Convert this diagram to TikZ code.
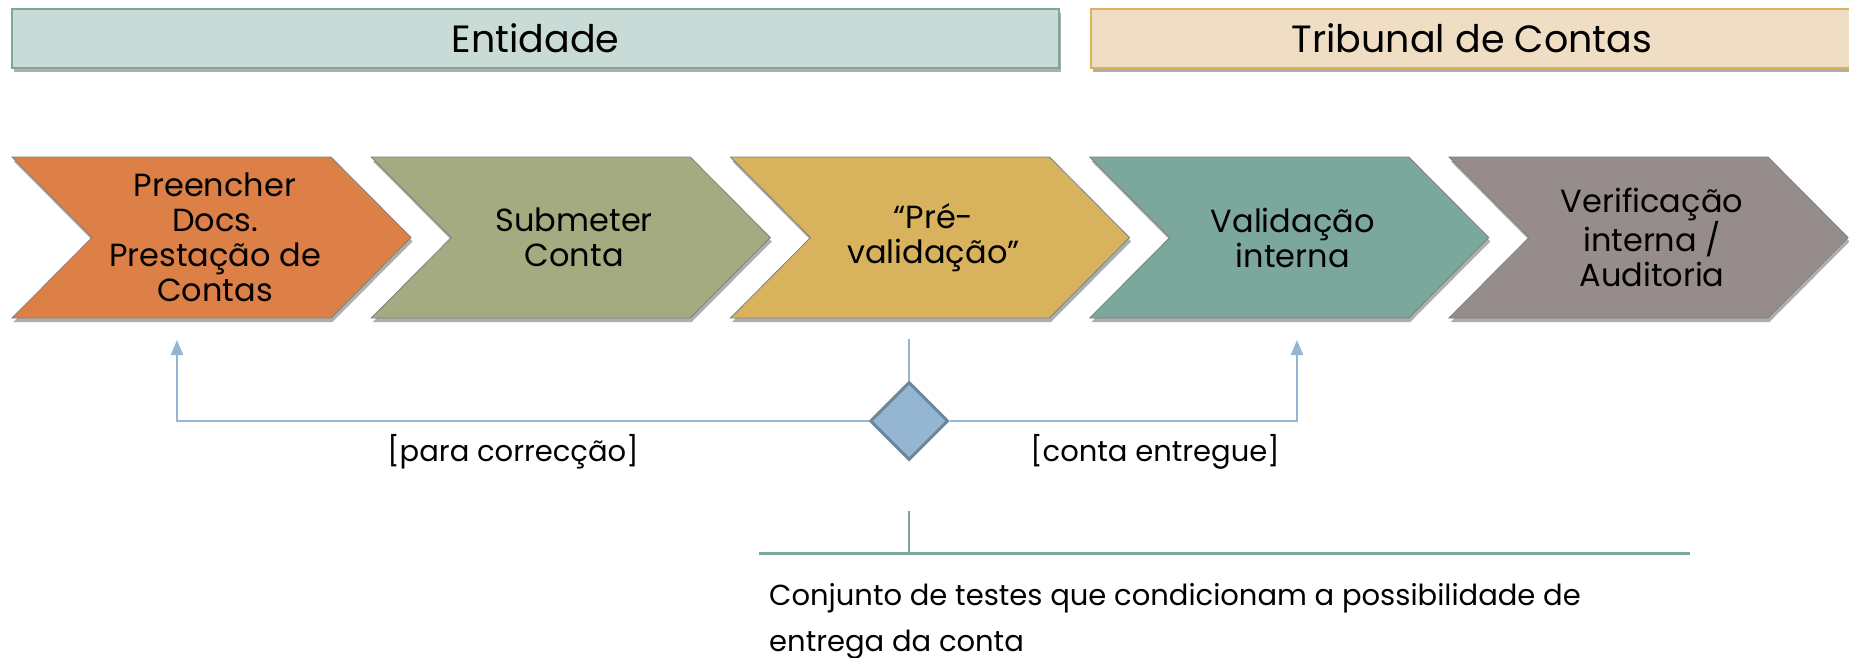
\documentclass[tikz,border=0pt]{standalone}
\usepackage{fontspec}
\setmainfont{Poppins}
\usetikzlibrary{shapes.geometric,arrows.meta,shadows}
\definecolor{accA}{HTML}{94B6D2}
\definecolor{accB}{HTML}{DD8047}
\definecolor{accC}{HTML}{A5AB81}
\definecolor{accD}{HTML}{D8B25C}
\definecolor{accE}{HTML}{7BA79D}
\definecolor{accF}{HTML}{968C8C}
\definecolor{entFill}{HTML}{C9DBD6}
\definecolor{tribFill}{HTML}{EFDEC3}
\definecolor{diaBorder}{HTML}{6D879A}
\tikzset{
  softshadow/.style={drop shadow={shadow xshift=1.5pt, shadow yshift=-4pt, opacity=0.45, fill=black!70}},
  titlebox/.style={draw, line width=2pt, softshadow},
  titletext/.style={font=\fontsize{38}{42}\selectfont, text=black, inner sep=0pt},
  chevshape/.style={draw=black!50, line width=0.8pt, softshadow},
  chevtext/.style={font=\fontsize{32}{35}\selectfont, align=center, text=black, inner sep=0pt},
  decision/.style={diamond, aspect=1, minimum width=78pt, minimum height=78pt, inner sep=0pt, fill=accA, draw=diaBorder, line width=3pt},
  flowline/.style={draw=accA, line width=2.2pt},
  flowarrow/.style={flowline, -{Triangle[width=12pt,length=15pt]}},
  guardtext/.style={font=\fontsize{29}{32}\selectfont, text=black, inner sep=0pt},
  notetext/.style={font=\fontsize{29}{32}\selectfont, text=black, inner sep=0pt},
  noteline/.style={draw=accE, line width=3pt}
}
\begin{document}
\begin{tikzpicture}[x=1pt,y=-1pt]
\useasboundingbox (0,0) rectangle (1849,658);
% title bars
\path[titlebox, draw=accE, fill=entFill] (12,9) rectangle (1059,68);
\node[titletext] (ent) at (535.5,38.5) {Entidade};
\path[titlebox, draw=accD, fill=tribFill] (1091,9) rectangle (1856,68);
\node[titletext] (trib) at (1472,38.5) {Tribunal de Contas};
% chevrons
\foreach \i/\col in {0/accB,1/accC,2/accD,3/accE,4/accF} {
  \pgfmathsetmacro\L{12+359.25*\i}
  \path[chevshape, fill=\col] (\L,157) -- (\L+319,157) -- (\L+399,237.5) -- (\L+319,318) -- (\L,318) -- (\L+80,237.5) -- cycle;
}
\node[chevtext] (s1) at (215,237.5) {Preencher\\Docs.\\Prestação de\\Contas};
\node[chevtext] (s2) at (574.25,237.5) {Submeter\\Conta};
\node[chevtext] (s3) at (933.5,237.5) {“Pré-\\validação”};
\node[chevtext] (s4) at (1292.75,237.5) {Validação\\interna};
\node[chevtext] (s5) at (1652,237.5) {Verificação\\interna /\\Auditoria};
% decision
\node[decision] (dec) at (909,421) {};
\coordinate (fromS3) at (909,339);
\coordinate (toS1) at (177,340);
\coordinate (toS4) at (1297,340);
\draw[draw=accA, line width=1.5pt] (fromS3) -- (dec.north);
\draw[flowarrow] (dec.west) -| (toS1);
\draw[flowarrow] (dec.east) -| (toS4);
\node[guardtext] (gl) at (513,452) {[para correcção]};
\node[guardtext] (gr) at (1155,452) {[conta entregue]};
% annotation
\coordinate (noteTop) at (909,511);
\coordinate (noteMid) at (909,553);
\coordinate (noteL) at (759,553);
\coordinate (noteR) at (1690,553);
\draw[noteline, line width=2pt] (noteTop) -- (noteMid);
\draw[noteline] (noteL) -- (noteR);
\node[notetext, anchor=base west] (note1) at (769,605) {Conjunto de testes que condicionam a possibilidade de};
\node[notetext, anchor=base west] (note2) at (769,651) {entrega da conta};
\end{tikzpicture}
\end{document}
